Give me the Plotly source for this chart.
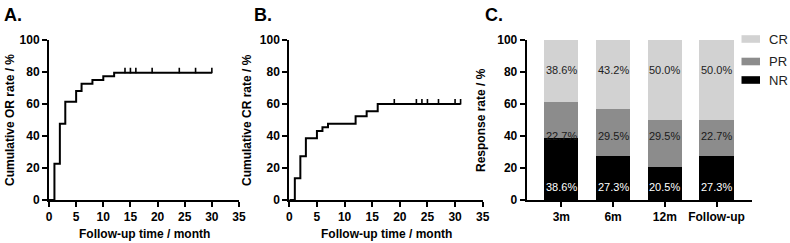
import plotly.graph_objects as go

W, H = 790, 243

# ---- Data ----
or_time = [0, 1, 2, 3, 5, 6, 8, 10, 12, 30]
or_rate = [0, 22.7, 47.7, 61.4, 68.2, 72.7, 75.0, 77.3, 79.5, 79.5]
or_censor = [14, 15, 16, 19, 24, 27, 30]

cr_time = [0, 1, 2, 3, 5, 6, 7, 12, 14, 16, 31]
cr_rate = [0, 13.6, 27.3, 38.6, 43.2, 45.5, 47.7, 52.3, 55.5, 60.0, 60.0]
cr_censor = [19, 23, 24, 25, 27, 30, 31]

categories = ["3m", "6m", "12m", "Follow-up"]
nr_vals = [38.6, 27.3, 20.5, 27.3]
pr_vals = [22.7, 29.5, 29.5, 22.7]
cr_vals = [38.6, 43.2, 50.0, 50.0]

FONT = "Liberation Sans, Arial, Helvetica, sans-serif"


def px_x(p):
    return p / W


def px_y(p):
    return 1 - p / H


def level_at(times, rates, t):
    v = rates[0]
    for ti, ri in zip(times, rates):
        if ti <= t:
            v = ri
    return v


fig = go.Figure()

censor_marker = dict(symbol="line-ns", size=4, line=dict(color="black", width=1.6))

# ---- Panel A ----
fig.add_trace(go.Scatter(x=or_time, y=or_rate, mode="lines", line=dict(shape="hv", color="black", width=2),
                         xaxis="x", yaxis="y", showlegend=False, hoverinfo="skip"))
fig.add_trace(go.Scatter(x=or_censor, y=[level_at(or_time, or_rate, t) + 1.4 for t in or_censor],
                         mode="markers", marker=censor_marker,
                         xaxis="x", yaxis="y", showlegend=False, hoverinfo="skip"))

# ---- Panel B ----
fig.add_trace(go.Scatter(x=cr_time, y=cr_rate, mode="lines", line=dict(shape="hv", color="black", width=2),
                         xaxis="x2", yaxis="y2", showlegend=False, hoverinfo="skip"))
fig.add_trace(go.Scatter(x=cr_censor, y=[level_at(cr_time, cr_rate, t) + 1.4 for t in cr_censor],
                         mode="markers", marker=censor_marker,
                         xaxis="x2", yaxis="y2", showlegend=False, hoverinfo="skip"))

# ---- Panel C ----
bar_series = [("NR", nr_vals, "#000000"), ("PR", pr_vals, "#8c8c8c"), ("CR", cr_vals, "#d2d2d2")]
for name, vals, col in bar_series:
    fig.add_trace(go.Bar(x=categories, y=vals, name=name, marker=dict(color=col, line=dict(width=0)),
                         width=0.66, xaxis="x3", yaxis="y3", showlegend=False, hoverinfo="skip"))

label_heights = {"NR": 8, "PR": 40, "CR": 81}
label_colors = {"NR": "white", "PR": "#1a1a1a", "CR": "#222222"}
annotations = []
for name, vals, col in bar_series:
    for c, v in zip(categories, vals):
        annotations.append(dict(x=c, y=label_heights[name], xref="x3", yref="y3", text=f"{v:.1f}%",
                                showarrow=False, font=dict(family=FONT, size=11, color=label_colors[name])))

# manual legend
legend_items = [("CR", "#d2d2d2", 39), ("PR", "#8c8c8c", 61.5), ("NR", "#000000", 80)]
shapes = []
for name, col, yc in legend_items:
    shapes.append(dict(type="rect", xref="paper", yref="paper", x0=px_x(741.5), x1=px_x(760),
                       y0=px_y(yc + 3.8), y1=px_y(yc - 3.8), fillcolor=col, line=dict(width=0)))
    annotations.append(dict(x=px_x(767), y=px_y(yc), xref="paper", yref="paper", text=name, showarrow=False,
                            xanchor="left", yanchor="middle", font=dict(family=FONT, size=13, color="#222")))

# panel letters
for letter, xl in [("A.", 2), ("B.", 252), ("C.", 483)]:
    annotations.append(dict(x=px_x(xl), y=px_y(3), xref="paper", yref="paper", text=f"<b>{letter}</b>",
                            showarrow=False, xanchor="left", yanchor="top",
                            font=dict(family=FONT, size=18, color="black")))

# axis titles
title_font = dict(family=FONT, size=12, color="black", weight="bold")
for txt, xc in [("Cumulative OR rate / %", 10), ("Cumulative CR rate / %", 247), ("Response rate / %", 481)]:
    annotations.append(dict(x=px_x(xc), y=px_y(120), xref="paper", yref="paper", text=txt, textangle=-90,
                            showarrow=False, xanchor="center", yanchor="middle", font=title_font))
for txt, xc in [("Follow-up time / month", 144), ("Follow-up time / month", 386)]:
    annotations.append(dict(x=px_x(xc), y=px_y(234), xref="paper", yref="paper", text=txt,
                            showarrow=False, xanchor="center", yanchor="middle", font=title_font))

tick_font = dict(family=FONT, size=12, color="black", weight="bold")
ax_common = dict(showline=True, linecolor="black", linewidth=2, ticks="outside", ticklen=5, tickwidth=2,
                 tickcolor="black", showgrid=False, zeroline=False, tickfont=tick_font, fixedrange=True,
                 automargin=False)

ydom = [px_y(200), px_y(40)]

fig.update_layout(
    width=W, height=H, margin=dict(l=0, r=0, t=0, b=0, autoexpand=False),
    paper_bgcolor="white", plot_bgcolor="white", barmode="stack", bargap=0,
    xaxis=dict(domain=[px_x(49), px_x(239)], range=[0, 35], tickvals=[0, 5, 10, 15, 20, 25, 30, 35],
               anchor="y", **ax_common),
    yaxis=dict(domain=ydom, range=[0, 100], tickvals=[0, 20, 40, 60, 80, 100], anchor="x", **ax_common),
    xaxis2=dict(domain=[px_x(289.3), px_x(482.7)], range=[0, 35], tickvals=[0, 5, 10, 15, 20, 25, 30, 35],
                anchor="y2", **ax_common),
    yaxis2=dict(domain=ydom, range=[0, 100], tickvals=[0, 20, 40, 60, 80, 100], anchor="x2", **ax_common),
    xaxis3=dict(domain=[px_x(526.7), px_x(751.7)], type="category", range=[-0.67, 3.68], anchor="y3",
                **ax_common),
    yaxis3=dict(domain=ydom, range=[0, 100], tickvals=[0, 20, 40, 60, 80, 100], anchor="x3", **ax_common),
    annotations=annotations, shapes=shapes,
)

fig.write_html("out.html", config={"displayModeBar": False, "staticPlot": True},
               post_script="document.documentElement.style.margin='0';document.body.style.margin='0';"
                           "document.body.style.padding='0';document.body.style.overflow='hidden';")
